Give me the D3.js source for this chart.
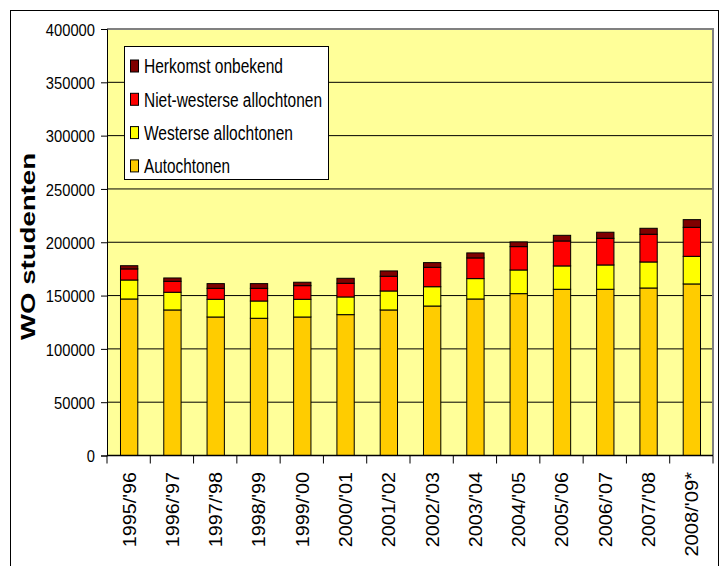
<!DOCTYPE html>
<html>
<head>
<meta charset="utf-8">
<script src="https://cdn.jsdelivr.net/npm/d3@7"></script>
<style>
  body { margin: 0; background: #fff; }
  svg { display: block; font-family: Arial, "Liberation Sans", sans-serif; }
</style>
</head>
<body>
<div id="chart"></div>
<script>
"use strict";

// data
const years = ["1995/'96","1996/'97","1997/'98","1998/'99","1999/'00","2000/'01","2001/'02",
  "2002/'03","2003/'04","2004/'05","2005/'06","2006/'07","2007/'08","2008/'09*"];
const autochtonen  = [146800,136500,129900,128700,129900,132100,136500,140200,146800,151800,155900,155900,157100,160900];
const westerse     = [17800,16600,16600,16200,16600,16600,17800,18100,19100,22200,21900,22800,24400,25900];
const nietWesterse = [10400,10300,10300,11900,12800,12800,13800,18200,19400,21900,23400,25000,26000,27200];
const onbekend     = [3000,3100,4400,4400,3200,4700,5000,4400,4700,4400,5300,5700,5600,7200];
const seriesNames  = ["Autochtonen","Westerse allochtonen","Niet-westerse allochtonen","Herkomst onbekend"];
const yTicks = [0,50000,100000,150000,200000,250000,300000,350000,400000];

const colors = ["#FFCC00","#FFFF00","#FF0000","#800000"];

const width = 725, height = 566;
const plotL = 107, plotR = 713, plotT = 29, plotB = 455.5;

// build table for the stack
const table = years.map((yr, i) => ({
  year: yr,
  "Autochtonen": autochtonen[i],
  "Westerse allochtonen": westerse[i],
  "Niet-westerse allochtonen": nietWesterse[i],
  "Herkomst onbekend": onbekend[i]
}));
const stacked = d3.stack().keys(seriesNames)(table);

const svg = d3.select("#chart").append("svg")
  .attr("width", width).attr("height", height);

// outer frame
svg.append("rect")
  .attr("x", 10.5).attr("y", 10.5)
  .attr("width", 708).attr("height", 570)
  .attr("fill", "#fff").attr("stroke", "#000");

const x = d3.scaleBand().domain(years).range([plotL, plotR])
  .paddingInner(0.6).paddingOuter(0.3);
const slot = d3.scaleBand().domain(years).range([plotL, plotR]).padding(0);
const y = d3.scaleLinear().domain([0, 400000]).range([plotB, plotT]);

// plot area
svg.append("rect")
  .attr("x", plotL).attr("y", plotT)
  .attr("width", plotR - plotL).attr("height", plotB - plotT)
  .attr("fill", "#FFFF99");

// grid lines
svg.append("g")
  .selectAll("line")
  .data(yTicks.filter(d => d > 0 && d < 400000))
  .join("line")
    .attr("x1", plotL).attr("x2", plotR)
    .attr("y1", d => y(d)).attr("y2", d => y(d))
    .attr("stroke", "#000").attr("stroke-width", 1);

// top and right border of the plot area
svg.append("path")
  .attr("d", `M${plotL},${plotT} H${plotR} V${plotB}`)
  .attr("fill", "none").attr("stroke", "#808080").attr("stroke-width", 2);

// bars
svg.append("g")
  .selectAll("g")
  .data(stacked)
  .join("g")
    .attr("fill", (d, i) => colors[i])
  .selectAll("rect")
  .data(d => d)
  .join("rect")
    .attr("x", d => x(d.data.year) + 0.5)
    .attr("y", d => y(d[1]))
    .attr("width", x.bandwidth())
    .attr("height", d => y(d[0]) - y(d[1]))
    .attr("stroke", "#000").attr("stroke-width", 1);

// y axis
const yAxis = svg.append("g")
  .attr("transform", `translate(${plotL},0)`)
  .call(d3.axisLeft(y).tickValues(yTicks).tickSize(6).tickPadding(6).tickFormat(d3.format("d")));
yAxis.select(".domain").attr("stroke", "#000");
yAxis.selectAll(".tick line").attr("stroke", "#000");
yAxis.selectAll(".tick text")
  .attr("font-size", 17)
  .attr("fill", "#000")
  .attr("dy", "0.36em")
  .attr("textLength", d => String(d).length * 8.2)
  .attr("lengthAdjust", "spacingAndGlyphs");

// x axis line and ticks at slot boundaries
svg.append("line")
  .attr("x1", plotL).attr("x2", plotR)
  .attr("y1", plotB).attr("y2", plotB)
  .attr("stroke", "#000").attr("stroke-width", 1.5);
svg.append("g")
  .selectAll("line")
  .data(years.map(d => slot(d)).concat([plotR]))
  .join("line")
    .attr("x1", d => d).attr("x2", d => d)
    .attr("y1", plotB).attr("y2", plotB + 8)
    .attr("stroke", "#000");

svg.append("g")
  .selectAll("text")
  .data(years)
  .join("text")
    .attr("transform", d => `translate(${x(d) + x.bandwidth() / 2 + 0.5},472) rotate(-90)`)
    .attr("dy", "0.36em")
    .attr("text-anchor", "end")
    .attr("font-size", 18)
    .attr("fill", "#000")
    .attr("textLength", d => d.length * 9.4)
    .attr("lengthAdjust", "spacingAndGlyphs")
    .text(d => d);

// y title
svg.append("text")
  .attr("transform", "translate(27.5,246.5) rotate(-90)")
  .attr("text-anchor", "middle")
  .attr("dy", "0.36em")
  .attr("font-size", 21)
  .attr("font-weight", "bold")
  .attr("textLength", 187)
  .attr("lengthAdjust", "spacingAndGlyphs")
  .text("WO studenten");

// legend (reverse order, like the original)
const legend = svg.append("g");
legend.append("rect")
  .attr("x", 124.5).attr("y", 46.5)
  .attr("width", 204).attr("height", 133)
  .attr("fill", "#fff").attr("stroke", "#000");

const legendItems = seriesNames.map((n, i) => ({ name: n, color: colors[i] })).reverse();
const legendWidths = { "Herkomst onbekend": 139, "Niet-westerse allochtonen": 178,
  "Westerse allochtonen": 149, "Autochtonen": 86 };
const item = legend.selectAll("g.item")
  .data(legendItems)
  .join("g")
    .attr("class", "item")
    .attr("transform", (d, i) => `translate(130,${66 + i * 33.3})`);
item.append("rect")
  .attr("x", 0.5).attr("y", -6)
  .attr("width", 8).attr("height", 12)
  .attr("fill", d => d.color).attr("stroke", "#000");
item.append("text")
  .attr("x", 14).attr("dy", "0.36em")
  .attr("font-size", 20)
  .attr("fill", "#000")
  .attr("textLength", d => legendWidths[d.name])
  .attr("lengthAdjust", "spacingAndGlyphs")
  .text(d => d.name);
</script>
</body>
</html>
